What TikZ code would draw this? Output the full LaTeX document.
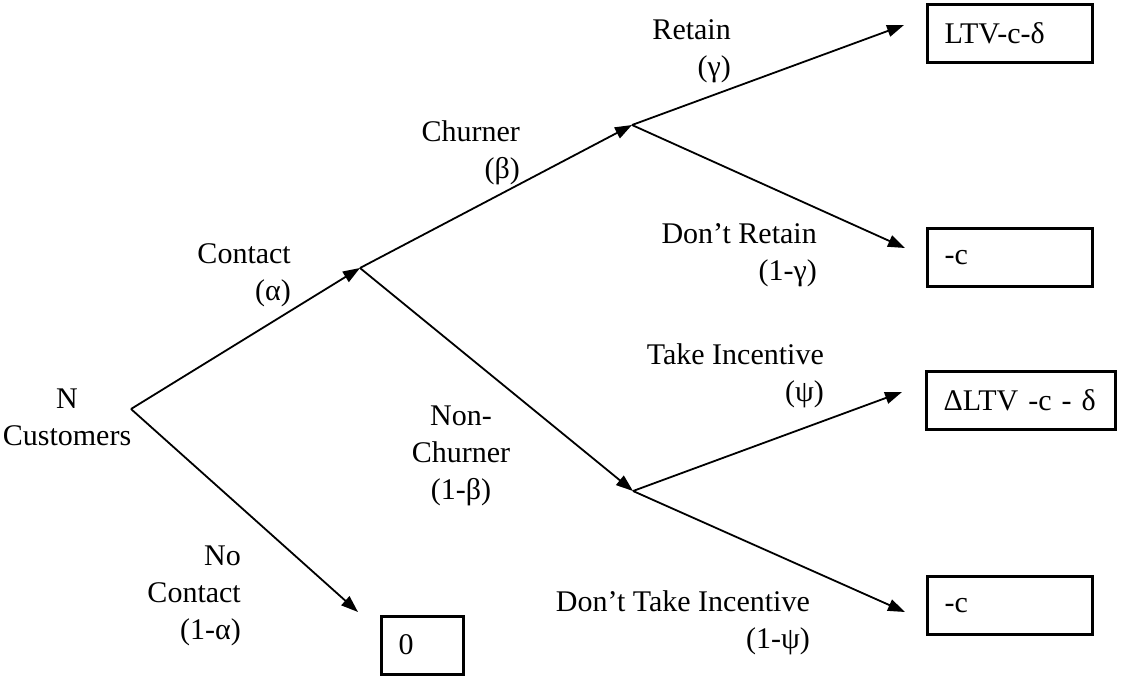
\documentclass[tikz,border=0pt]{standalone}
\usepackage{fontspec}
\setmainfont{Liberation Serif}
\usetikzlibrary{arrows.meta}
\begin{document}
\begin{tikzpicture}[x=1pt,y=-1pt,
  branch/.style={line width=1.8pt, -{Triangle[length=17pt,width=12pt]}},
  lbl/.style={font=\fontsize{30}{37}\selectfont, inner sep=0pt},
  outcome/.style={draw, line width=3pt, font=\fontsize{30}{37}\selectfont, anchor=center,
    minimum height=58pt, align=left, inner xsep=17pt, inner ysep=0pt}]
\useasboundingbox (0,0) rectangle (1121,681);
% tree points
\coordinate (root) at (131,409);
\coordinate (contact) at (360,268);
\coordinate (churn) at (632,125);
\coordinate (nonchurn) at (633,491);
\coordinate (tipA) at (904,25);
\coordinate (tipB) at (905,248);
\coordinate (tipC) at (902,392);
\coordinate (tipD) at (905,612);
\coordinate (tipE) at (358,612);
% outcome boxes
\node[outcome, text width=131pt] (oA) at (1010,33.5) {LTV-c-δ};
\node[outcome, text width=131pt] (oB) at (1010,257.5) {-c};
\node[outcome, text width=155pt] (oC) at (1021,400.5) {ΔLTV -c - δ};
\node[outcome, text width=131pt] (oD) at (1010,605.5) {-c};
\node[outcome, text width=48pt] (oE) at (422.5,645) {0};
% branches
\draw[branch] (root) -- (contact);
\draw[branch] (root) -- (tipE);
\draw[branch] (contact) -- (churn);
\draw[branch] (contact) -- (nonchurn);
\draw[branch] (churn) -- (tipA);
\draw[branch] (churn) -- (tipB);
\draw[branch] (nonchurn) -- (tipC);
\draw[branch] (nonchurn) -- (tipD);
% labels
\node[lbl, align=center] (lroot) at (67,417) {N\\Customers};
\node[lbl, align=right, anchor=east] (lcontact) at (291,275) {Contact\\(α)};
\node[lbl, align=right, anchor=east] (lchurn) at (520,153) {Churner\\(β)};
\node[lbl, align=right, anchor=east] (lretain) at (731,51) {Retain\\(γ)};
\node[lbl, align=right, anchor=east] (lnoretain) at (817,255) {Don’t Retain\\(1-γ)};
\node[lbl, align=right, anchor=east] (ltake) at (824,376) {Take Incentive\\(ψ)};
\node[lbl, align=center] (lnonchurn) at (461,456) {Non-\\Churner\\(1-β)};
\node[lbl, align=right, anchor=east] (lnocontact) at (241,596) {No\\Contact\\(1-α)};
\node[lbl, align=right, anchor=east] (lnotake) at (810,623) {Don’t Take Incentive\\(1-ψ)};
\end{tikzpicture}
\end{document}
